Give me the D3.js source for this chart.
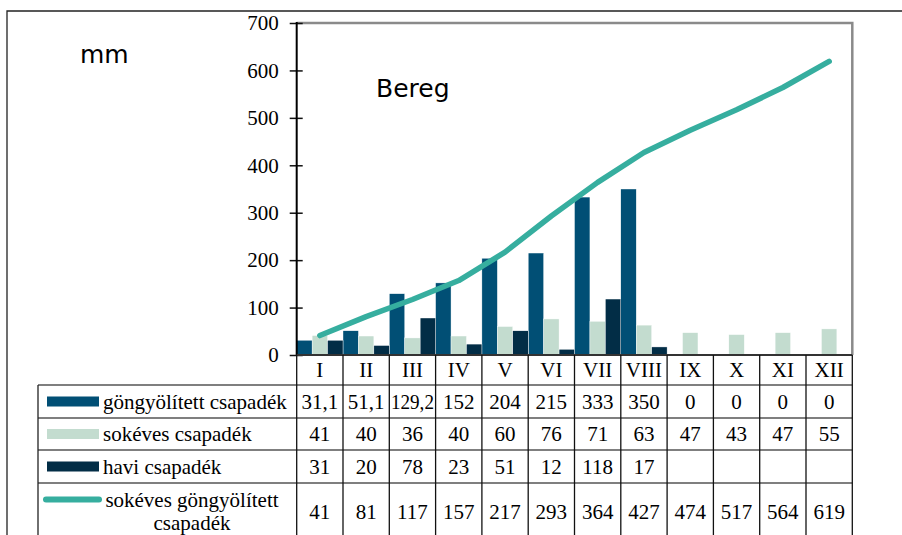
<!DOCTYPE html>
<html>
<head>
<meta charset="utf-8">
<style>
body { margin: 0; background: #fff; }
svg { display: block; }
.serif { font-family: "Times New Roman", "Liberation Serif", serif; }
.sans { font-family: "DejaVu Sans", Verdana, sans-serif; }
</style>
</head>
<body>
<svg width="902" height="535"></svg>
<script src="https://cdn.jsdelivr.net/npm/d3@7/dist/d3.min.js"></script>
<script>
// data
var months = ["I","II","III","IV","V","VI","VII","VIII","IX","X","XI","XII"];
var gongyolitett = [31.1, 51.1, 129.2, 152, 204, 215, 333, 350, 0, 0, 0, 0];
var sokeves = [41, 40, 36, 40, 60, 76, 71, 63, 47, 43, 47, 55];
var havi = [31, 20, 78, 23, 51, 12, 118, 17, null, null, null, null];
var sokevesGongy = [41, 81, 117, 157, 217, 293, 364, 427, 474, 517, 564, 619];
var yTicks = [0, 100, 200, 300, 400, 500, 600, 700];

var seriesNames = ["göngyölített csapadék", "sokéves csapadék", "havi csapadék", "sokéves göngyölített csapadék"];
var colors = ["#014f75", "#c3dccf", "#022d46", "#36ae9f"];

var svg = d3.select("svg");
svg.append("rect").attr("width", 902).attr("height", 535).attr("fill", "#fff");

// plot area edges (window.top is reserved, so own names)
var plotL = 296.7, plotR = 852.3, plotT = 23, plotB = 355;
var x = d3.scaleBand().domain(months).range([plotL, plotR]).padding(0);
var xs = d3.scaleBand().domain([0, 1, 2]).range([0, x.bandwidth()]).padding(0);
var y = d3.scaleLinear().domain([0, 700]).range([plotB, plotT]);

// outer frame (top + left visible)
svg.append("path").attr("d", "M7,535 V11 H902")
  .attr("fill", "none").attr("stroke", "#222").attr("stroke-width", 1.3);

// plot frame, grey top and right
svg.append("path").attr("d", "M" + plotL + "," + plotT + " H" + plotR + " V" + plotB)
  .attr("fill", "none").attr("stroke", "#8a8a8a").attr("stroke-width", 2.5);

// bars
var barSeries = [gongyolitett, sokeves, havi];
barSeries.forEach(function(vals, si) {
  svg.append("g").selectAll("rect")
    .data(vals.map(function(v, i) { return {m: months[i], v: v}; }).filter(function(d) { return d.v != null && d.v > 0; }))
    .enter().append("rect")
    .attr("x", function(d) { return x(d.m) + xs(si); })
    .attr("width", xs.bandwidth())
    .attr("y", function(d) { return y(d.v); })
    .attr("height", function(d) { return y(0) - y(d.v); })
    .attr("fill", colors[si])
    .attr("stroke", "#fff").attr("stroke-width", 0.4);
});

// cumulative line
var line = d3.line()
  .x(function(d, i) { return x(months[i]) + x.bandwidth() / 2; })
  .y(function(d) { return y(d); });
svg.append("path").datum(sokevesGongy)
  .attr("d", line)
  .attr("fill", "none").attr("stroke", colors[3]).attr("stroke-width", 5.5)
  .attr("stroke-linecap", "round").attr("stroke-linejoin", "round");

// y axis
var yAxis = svg.append("g").attr("class", "serif")
  .attr("transform", "translate(" + plotL + ",0)")
  .call(d3.axisLeft(y).tickValues(yTicks).tickSize(7).tickPadding(11));
yAxis.select(".domain").remove();
yAxis.selectAll(".tick line").attr("x1", 6).attr("stroke", "#111").attr("stroke-width", 1.5);
yAxis.selectAll(".tick text").attr("font-size", 21).attr("fill", "#000")
  .attr("font-family", "'Times New Roman', 'Liberation Serif', serif");
svg.append("line").attr("x1", plotL).attr("x2", plotL).attr("y1", plotT - 1).attr("y2", plotB)
  .attr("stroke", "#000").attr("stroke-width", 2);
svg.append("line").attr("x1", plotL).attr("x2", plotR).attr("y1", plotB).attr("y2", plotB)
  .attr("stroke", "#333").attr("stroke-width", 2);

// labels
svg.append("text").attr("class", "sans").attr("x", 80).attr("y", 63)
  .attr("font-size", 25).text("mm");
svg.append("text").attr("class", "sans").attr("x", 376).attr("y", 97)
  .attr("font-size", 25).text("Bereg");

// data table
var rowLines = [385, 418, 450, 483];
var rowBottom = 541;
var tableLeft = 38;
var g = svg.append("g").attr("class", "serif").attr("font-size", 21);

rowLines.forEach(function(ry) {
  g.append("line").attr("x1", tableLeft).attr("x2", plotR).attr("y1", ry).attr("y2", ry)
    .attr("stroke", "#555").attr("stroke-width", 1.3);
});
g.append("line").attr("x1", tableLeft).attr("x2", tableLeft).attr("y1", rowLines[0]).attr("y2", rowBottom)
  .attr("stroke", "#222").attr("stroke-width", 1.3);
g.selectAll(".vline").data(months.concat(["end"]))
  .enter().append("line")
  .attr("x1", function(d) { return d === "end" ? plotR : x(d); })
  .attr("x2", function(d) { return d === "end" ? plotR : x(d); })
  .attr("y1", plotB).attr("y2", rowBottom)
  .attr("stroke", "#111").attr("stroke-width", 1.3);

// month headers
g.selectAll(".mh").data(months).enter().append("text")
  .attr("x", function(d) { return x(d) + x.bandwidth() / 2; })
  .attr("y", 370).attr("dy", "0.35em").attr("text-anchor", "middle")
  .text(function(d) { return d; });

var rows = [gongyolitett, sokeves, havi, sokevesGongy];
var rowMid = [401.5, 434, 466.5, 512];
var fmt = function(v) { return v == null ? "" : String(v).replace(".", ","); };
rows.forEach(function(vals, ri) {
  g.append("g").selectAll("text").data(vals).enter().append("text")
    .attr("x", function(d, i) { return x(months[i]) + x.bandwidth() / 2; })
    .attr("y", rowMid[ri]).attr("dy", "0.35em").attr("text-anchor", "middle")
    .each(function(d) {
      var s = fmt(d);
      var t = d3.select(this).text(s);
      if (s.length > 4) t.attr("textLength", 43).attr("lengthAdjust", "spacingAndGlyphs");
    });
});

// legend keys in the table
[0, 1, 2].forEach(function(si) {
  g.append("rect").attr("x", 47).attr("y", rowMid[si] - 5).attr("width", 52).attr("height", 10)
    .attr("fill", colors[si]);
  g.append("text").attr("x", 103).attr("y", rowMid[si]).attr("dy", "0.35em").text(seriesNames[si]);
});
g.append("line").attr("x1", 46).attr("x2", 99).attr("y1", 499.5).attr("y2", 499.5)
  .attr("stroke", colors[3]).attr("stroke-width", 6).attr("stroke-linecap", "round");
g.append("text").attr("x", 192).attr("y", 500).attr("dy", "0.35em").attr("text-anchor", "middle")
  .text("sokéves göngyölített");
g.append("text").attr("x", 192).attr("y", 523).attr("dy", "0.35em").attr("text-anchor", "middle")
  .text("csapadék");
</script>
</body>
</html>
